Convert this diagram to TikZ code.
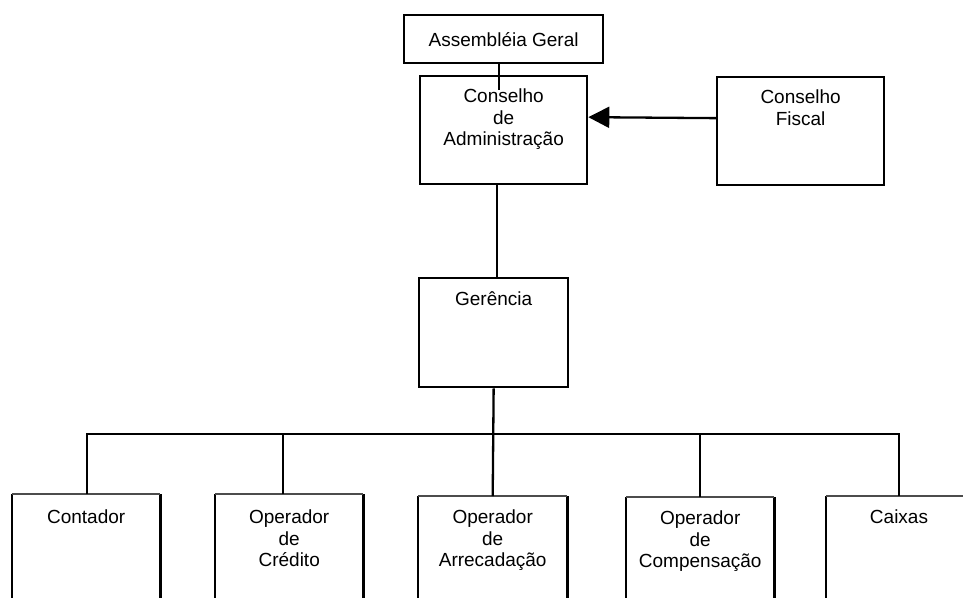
\documentclass[tikz,border=0pt]{standalone}
\usepackage{fontspec}
\setmainfont{Liberation Sans}
\usetikzlibrary{arrows.meta,positioning}
\tikzset{
  box/.style={draw, line width=2.3pt, anchor=north west, inner sep=0pt},
  unit/.style={anchor=north west, minimum width=148pt, minimum height=150pt, inner sep=0pt},
  caption/.style={font=\fontsize{19}{21.5}\selectfont, align=center, inner sep=0pt, anchor=north},
  link/.style={line width=2.3pt},
  rim/.style={line width=1.7pt, draw=black!70},
}

\begin{document}
\begin{tikzpicture}[x=1pt,y=-1pt]
\useasboundingbox (0,0) rectangle (963,597);
\clip (0,0) rectangle (963,597);
% Top level
\node[box, minimum width=199pt, minimum height=48pt, font=\fontsize{19}{21.5}\selectfont] (ag) at (403,14) {Assembléia Geral};
\node[box, minimum width=167pt, minimum height=108pt] (ca) at (419,75) {};
\node[caption, yshift=-14pt] at (ca.north) {Conselho\\de\\Administração};
\node[box, minimum width=167pt, minimum height=108pt] (cf) at (716,76) {};
\node[caption, yshift=-14pt] at (cf.north) {Conselho\\Fiscal};
\node[box, minimum width=149pt, minimum height=109pt] (ger) at (418,277) {};
\node[caption, yshift=-14pt] at (ger.north) {Gerência};
% Bottom row
\node[unit] (cont) at (12,494) {};
\node[unit] (cred) at (215,494) {};
\node[unit, minimum width=149pt] (arr) at (418,496) {};
\node[unit] (comp) at (626,497) {};
\node[unit, minimum width=200pt] (cai) at (826,496) {};
\foreach \u in {cont,cred,arr,comp,cai} {
  \draw[link] (\u.north west) -- (\u.south west);
  \draw[link] (\u.north east) -- (\u.south east);
  \draw[rim] (\u.north west) -- (\u.north east);
}
\node[caption, yshift=-16pt] at (cont.north) {Contador};
\node[caption, yshift=-16pt] at (cred.north) {Operador\\de\\Crédito};
\node[caption, yshift=-14pt] at (arr.north) {Operador\\de\\Arrecadação};
\node[caption, yshift=-14pt] at (comp.north) {Operador\\de\\Compensação};
\node[caption, yshift=-14pt] at ([xshift=73pt]cai.north west) {Caixas};
% Connectors
\coordinate (agend) at (499,90);
\draw[link] (ag.south -| agend) -- (agend);
\draw[link, -{Triangle[length=21pt,width=21pt]}] ([yshift=13pt]cf.west) -- ([yshift=13pt]ca.east);
\draw[link] ([xshift=-7pt]ca.south) -- ([xshift=-7pt]ca.south |- ger.north);
\draw[link] (ger.south) -- (arr.north);
\coordinate (bus) at (492.5,434);
\draw[link] ([xshift=1pt]cont.north) |- (bus);
\draw[link] ([xshift=-6pt]cred.north) |- (bus);
\draw[link] (comp.north) |- (bus);
\draw[link] ([xshift=73pt]cai.north west) |- (bus);
\end{tikzpicture}
\end{document}
